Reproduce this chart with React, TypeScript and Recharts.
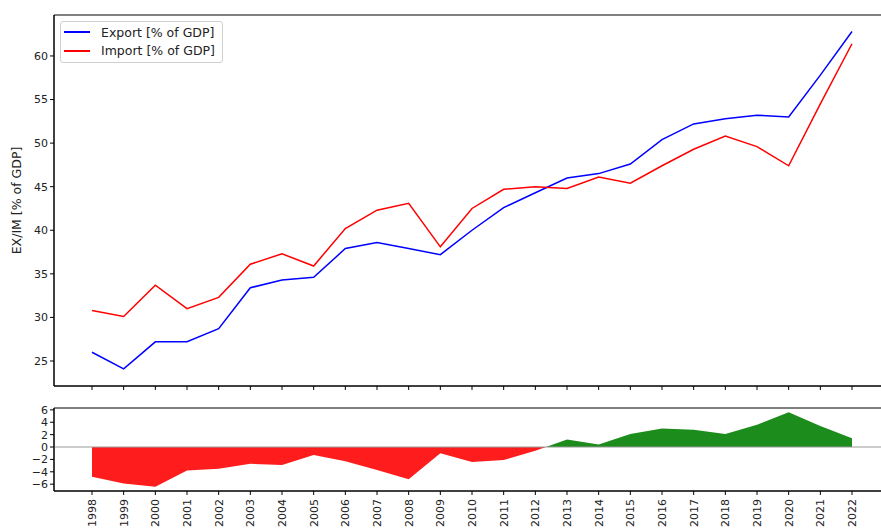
import {
  Area,
  AreaChart,
  Line,
  LineChart,
  ReferenceArea,
  ReferenceLine,
  XAxis,
  YAxis,
} from "recharts";

const years = [
  1998, 1999, 2000, 2001, 2002, 2003, 2004, 2005, 2006, 2007, 2008, 2009,
  2010, 2011, 2012, 2013, 2014, 2015, 2016, 2017, 2018, 2019, 2020, 2021, 2022,
];
const exportPct = [
  26.0, 24.1, 27.2, 27.2, 28.7, 33.4, 34.3, 34.6, 37.9, 38.6, 37.9, 37.2,
  40.0, 42.6, 44.3, 46.0, 46.5, 47.6, 50.4, 52.2, 52.8, 53.2, 53.0, 57.8, 62.8,
];
const importPct = [
  30.8, 30.1, 33.7, 31.0, 32.3, 36.1, 37.3, 35.9, 40.2, 42.3, 43.1, 38.1,
  42.5, 44.7, 45.0, 44.8, 46.1, 45.4, 47.4, 49.3, 50.8, 49.6, 47.4, 54.5, 61.4,
];
const balance = [
  -4.8, -5.9, -6.4, -3.8, -3.5, -2.7, -2.9, -1.3, -2.3, -3.7, -5.2, -1.0,
  -2.4, -2.1, -0.6, 1.2, 0.4, 2.1, 3.0, 2.8, 2.1, 3.6, 5.6, 3.4, 1.4,
];
const topTicks = [25, 30, 35, 40, 45, 50, 55, 60];
const bottomTicks = [-6, -4, -2, 0, 2, 4, 6];
const legendItems = [
  { label: "Export [% of GDP]", color: "#0000ff" },
  { label: "Import [% of GDP]", color: "#ff0000" },
];

const rows = years.map((year, i) => ({
  year,
  exp: exportPct[i],
  imp: importPct[i],
  bal: balance[i],
}));

const FONT = "'DejaVu Sans', sans-serif";
const X_DOMAIN: [number, number] = [1996.8, 2023.2];
const TOP_DOMAIN: [number, number] = [22.13, 64.7];
const BOTTOM_DOMAIN: [number, number] = [-7.1, 6.3];
const tickStyle = { fontSize: 11, fill: "#222", fontFamily: FONT };

const minus = (v: number) => (v < 0 ? `\u2212${Math.abs(v)}` : `${v}`);

function YearTick(props: any) {
  const { x, y, payload } = props;
  return (
    <text
      x={0}
      y={0}
      transform={`translate(${x + 4},${y + 2}) rotate(-90)`}
      textAnchor="end"
      fontSize={11}
      fontFamily={FONT}
      fill="#222"
    >
      {payload.value}
    </text>
  );
}

function LegendBox() {
  return (
    <div
      style={{
        position: "absolute",
        left: 60,
        top: 21,
        border: "1px solid #d0d0d0",
        borderRadius: 3,
        background: "#fff",
        padding: "1px 7px 2px 3px",
        fontFamily: FONT,
        fontSize: 12.5,
        color: "#222",
      }}
    >
      {legendItems.map((it) => (
        <div key={it.label} style={{ display: "flex", alignItems: "center", height: 18.4 }}>
          <span style={{ width: 26, height: 2, background: it.color, marginRight: 11 }} />
          <span>{it.label}</span>
        </div>
      ))}
    </div>
  );
}

export default function App() {
  const max = Math.max(...balance);
  const min = Math.min(...balance);
  const split = max / (max - min);

  return (
    <div
      style={{
        position: "absolute",
        left: 0,
        top: 0,
        width: 881,
        height: 532,
        overflow: "hidden",
        background: "#fff",
      }}
    >
      <LineChart
        width={900}
        height={392}
        data={rows}
        margin={{ top: 15, right: 10, bottom: 0, left: 0 }}
      >
        <XAxis
          dataKey="year"
          type="number"
          domain={X_DOMAIN}
          ticks={years}
          interval={0}
          allowDataOverflow
          height={6}
          tickSize={4}
          tickFormatter={() => ""}
          stroke="#000"
        />
        <YAxis
          type="number"
          domain={TOP_DOMAIN}
          ticks={topTicks}
          interval={0}
          allowDataOverflow
          width={54}
          tickSize={4}
          tick={tickStyle}
          stroke="#000"
          label={{
            value: "EX/IM [% of GDP]",
            angle: -90,
            position: "center",
            dx: -10,
            style: { fontSize: 12.5, fill: "#222", fontFamily: FONT },
          }}
        />
        <ReferenceArea
          x1={X_DOMAIN[0]}
          x2={X_DOMAIN[1]}
          y1={TOP_DOMAIN[0]}
          y2={TOP_DOMAIN[1]}
          fill="none"
          stroke="#000"
          strokeWidth={1}
        />
        <Line
          type="linear"
          dataKey="exp"
          stroke="#0000ff"
          strokeWidth={1.5}
          dot={false}
          isAnimationActive={false}
        />
        <Line
          type="linear"
          dataKey="imp"
          stroke="#ff0000"
          strokeWidth={1.5}
          dot={false}
          isAnimationActive={false}
        />
      </LineChart>
      <LegendBox />
      <AreaChart
        width={900}
        height={150}
        data={rows}
        baseValue={0}
        margin={{ top: 16, right: 10, bottom: 0, left: 0 }}
      >
        <defs>
          <linearGradient id="balSplit" x1="0" y1="0" x2="0" y2="1">
            <stop offset={split} stopColor="#1c8c1c" />
            <stop offset={split} stopColor="#ff1c1c" />
          </linearGradient>
        </defs>
        <XAxis
          dataKey="year"
          type="number"
          domain={X_DOMAIN}
          ticks={years}
          interval={0}
          allowDataOverflow
          height={51}
          tickSize={4}
          tick={<YearTick />}
          stroke="#000"
        />
        <YAxis
          type="number"
          domain={BOTTOM_DOMAIN}
          ticks={bottomTicks}
          interval={0}
          allowDataOverflow
          width={54}
          tickSize={4}
          tick={tickStyle}
          tickFormatter={minus}
          stroke="#000"
        />
        <ReferenceArea
          x1={X_DOMAIN[0]}
          x2={X_DOMAIN[1]}
          y1={BOTTOM_DOMAIN[0]}
          y2={BOTTOM_DOMAIN[1]}
          fill="none"
          stroke="#000"
          strokeWidth={1}
        />
        <Area
          type="linear"
          dataKey="bal"
          stroke="none"
          fill="url(#balSplit)"
          fillOpacity={1}
          baseValue={0}
          isAnimationActive={false}
        />
        <ReferenceLine y={0} stroke="#9a9a9a" strokeWidth={1} />
      </AreaChart>
    </div>
  );
}
